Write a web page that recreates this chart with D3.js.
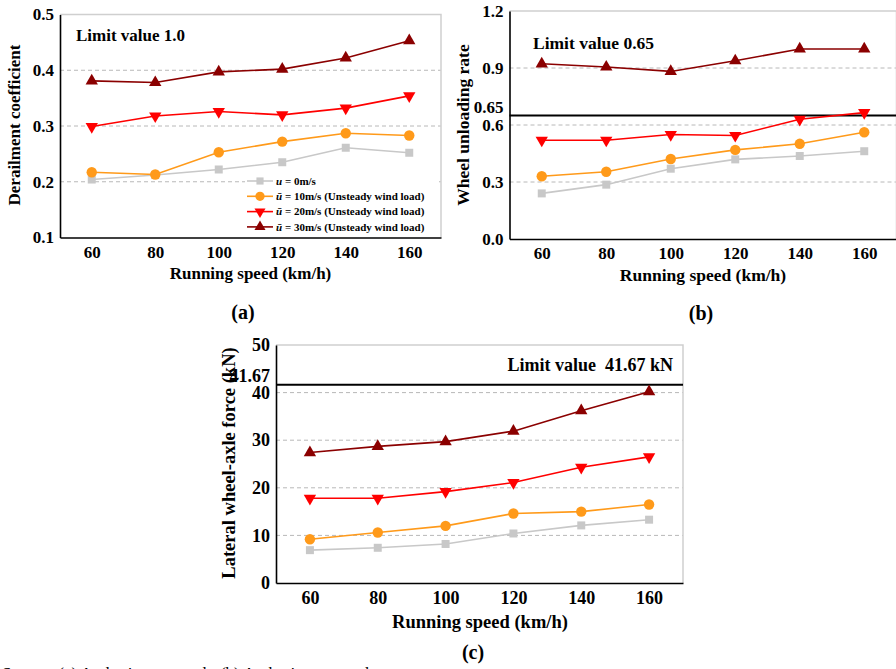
<!DOCTYPE html>
<html>
<head>
<meta charset="utf-8">
<script src="https://cdn.jsdelivr.net/npm/d3@7"></script>
<style>
  body { margin: 0; background: #fff; }
  svg { display: block; font-family: "Liberation Serif", "Times New Roman", serif; font-weight: bold; }
</style>
</head>
<body>
<svg id="chart" width="896" height="669"></svg>
<script>
// running speeds (km/h)
const speeds = [60, 80, 100, 120, 140, 160];
const seriesLabels = ["u = 0m/s", "ū = 10m/s (Unsteady wind load)", "ū = 20m/s (Unsteady wind load)", "ū = 30m/s (Unsteady wind load)"];
const seriesColors = ["#c8c8c8", "#ff9a1a", "#ff0000", "#8b0000"];

// (a) derailment coefficient
const derail0 = [0.204, 0.212, 0.222, 0.235, 0.261, 0.252];
const derail10 = [0.217, 0.213, 0.253, 0.272, 0.287, 0.283];
const derail20 = [0.299, 0.318, 0.326, 0.320, 0.332, 0.354];
const derail30 = [0.381, 0.378, 0.397, 0.402, 0.422, 0.453];
const derailTicks = [0.1, 0.2, 0.3, 0.4, 0.5];

// (b) wheel unloading rate
const unload0 = [0.24, 0.286, 0.37, 0.419, 0.437, 0.462];
const unload10 = [0.33, 0.354, 0.421, 0.469, 0.501, 0.562];
const unload20 = [0.52, 0.52, 0.55, 0.545, 0.63, 0.665];
const unload30 = [0.922, 0.905, 0.882, 0.938, 1.0, 1.0];
const unloadTicks = [0.0, 0.3, 0.6, 0.9, 1.2];
const unloadLimit = 0.65;

// (c) lateral wheel-axle force (kN)
const lateral0 = [6.9, 7.4, 8.2, 10.4, 12.1, 13.3];
const lateral10 = [9.2, 10.6, 12.0, 14.6, 15.0, 16.5];
const lateral20 = [17.8, 17.8, 19.2, 21.1, 24.3, 26.5];
const lateral30 = [27.4, 28.7, 29.7, 31.9, 36.2, 40.2];
const lateralTicks = [0, 10, 20, 30, 40, 50];
const lateralLimit = 41.67;

const svg = d3.select("#chart");

const symbols = [d3.symbolSquare, d3.symbolCircle, d3.symbolTriangle, d3.symbolTriangle];
const symbolSizes = [64, 85, 66, 66];
const symbolRotate = [0, 0, 180, 0];

function drawPanel(p) {
    const g = svg.append("g");
    const x = d3.scaleLinear().domain([50, 170]).range([p.left, p.right]);
    const y = d3.scaleLinear().domain([p.ticks[0], p.ticks[p.ticks.length - 1]]).range([p.bottom, p.top]);

    // dashed grid
    g.selectAll(".grid")
        .data(p.ticks.slice(1, -1))
        .enter().append("line")
        .attr("x1", p.left).attr("x2", p.right)
        .attr("y1", d => y(d)).attr("y2", d => y(d))
        .attr("stroke", "#b8b8b8")
        .attr("stroke-dasharray", "4,3");

    // light top / right frame
    g.append("path")
        .attr("d", `M${p.left},${p.top}H${p.right}V${p.bottom}`)
        .attr("fill", "none")
        .attr("stroke", "#cfcfcf")
        .attr("stroke-width", 1.5);

    if (p.limit !== undefined) {
        g.append("line")
            .attr("x1", p.left).attr("x2", p.right)
            .attr("y1", y(p.limit)).attr("y2", y(p.limit))
            .attr("stroke", "#000")
            .attr("stroke-width", 2);
        g.append("text")
            .attr("x", p.left - 6).attr("y", y(p.limit) - 3)
            .attr("text-anchor", "end")
            .style("font-size", p.tickFont + "px")
            .text(p.limitTick);
    }

    const line = d3.line()
        .x((d, i) => x(speeds[i]))
        .y(d => y(d));

    p.series.forEach((vals, k) => {
        g.append("path")
            .datum(vals)
            .attr("fill", "none")
            .attr("stroke", seriesColors[k])
            .attr("stroke-width", 1.6)
            .attr("d", line);
        g.selectAll(".m" + k)
            .data(vals)
            .enter().append("path")
            .attr("transform", (d, i) => `translate(${x(speeds[i])},${y(d)}) rotate(${symbolRotate[k]})`)
            .attr("d", d3.symbol().type(symbols[k]).size(symbolSizes[k]))
            .attr("fill", seriesColors[k]);
    });

    // axes
    const yAxis = g.append("g")
        .attr("transform", `translate(${p.left},0)`)
        .call(d3.axisLeft(y).tickValues(p.ticks).tickFormat(d3.format(p.fmt)).tickSize(0).tickPadding(6));
    yAxis.selectAll("text")
        .style("font-size", p.tickFont + "px")
        .attr("fill", "#000");

    const xAxis = g.append("g")
        .attr("transform", `translate(0,${p.bottom})`)
        .call(d3.axisBottom(x).tickValues(speeds).tickSize(0).tickPadding(8));
    xAxis.selectAll("text")
        .style("font-size", p.tickFont + "px")
        .attr("fill", "#000");

    [yAxis, xAxis].forEach(ax => {
        ax.attr("font-family", null).attr("font-size", null);
        ax.select(".domain").attr("stroke", "#000").attr("stroke-width", 1.6);
    });

    // titles
    g.append("text")
        .attr("transform", `translate(${p.ylabelX},${p.ylabelY}) rotate(-90)`)
        .attr("text-anchor", "middle")
        .attr("dy", "0.35em")
        .style("font-size", p.labelFont + "px")
        .text(p.ylabel);

    g.append("text")
        .attr("x", p.xlabelX).attr("y", p.xlabelY)
        .attr("text-anchor", "middle")
        .style("font-size", p.labelFont + "px")
        .text("Running speed (km/h)");

    g.append("text")
        .attr("x", p.tagX).attr("y", p.tagY)
        .attr("text-anchor", "middle")
        .style("font-size", "20px")
        .text(p.tag);

    g.append("text")
        .attr("x", p.noteX).attr("y", p.noteY)
        .attr("text-anchor", p.noteAnchor)
        .style("font-size", p.noteFont + "px")
        .style("white-space", "pre")
        .text(p.note);

    return { g, x, y };
}

const a = drawPanel({
    left: 60, right: 441, top: 14.5, bottom: 237.5,
    ticks: derailTicks, fmt: ".1f", tickFont: 17, labelFont: 17,
    series: [derail0, derail10, derail20, derail30],
    ylabel: "Derailment coefficient", ylabelX: 14, ylabelY: 125,
    xlabelX: 250.5, xlabelY: 279,
    tag: "(a)", tagX: 243, tagY: 319,
    note: "Limit value 1.0", noteX: 76, noteY: 41, noteAnchor: "start", noteFont: 17
});

drawPanel({
    left: 509.5, right: 896.5, top: 11, bottom: 239,
    ticks: unloadTicks, fmt: ".1f", tickFont: 17, labelFont: 17.5,
    limit: unloadLimit, limitTick: "0.65",
    series: [unload0, unload10, unload20, unload30],
    ylabel: "Wheel unloading rate", ylabelX: 463, ylabelY: 125,
    xlabelX: 703, xlabelY: 281,
    tag: "(b)", tagX: 701, tagY: 320,
    note: "Limit value 0.65", noteX: 533, noteY: 49, noteAnchor: "start", noteFont: 17.5
});

drawPanel({
    left: 276, right: 683, top: 345, bottom: 583,
    ticks: lateralTicks, fmt: "d", tickFont: 18, labelFont: 18.5,
    limit: lateralLimit, limitTick: "41.67",
    series: [lateral0, lateral10, lateral20, lateral30],
    ylabel: "Lateral wheel-axle force (kN)", ylabelX: 229, ylabelY: 463,
    xlabelX: 480, xlabelY: 628,
    tag: "(c)", tagX: 473, tagY: 659,
    note: "Limit value  41.67 kN", noteX: 673, noteY: 371, noteAnchor: "end", noteFont: 18
});

// legend inside panel (a)
const legend = a.g.append("g");
legend.append("rect")
    .attr("x", 245).attr("y", 172).attr("width", 194).attr("height", 63)
    .attr("fill", "#fff");
seriesLabels.forEach((label, k) => {
    const ly = 181 + k * 15.3;
    legend.append("line")
        .attr("x1", 247).attr("x2", 273)
        .attr("y1", ly).attr("y2", ly)
        .attr("stroke", seriesColors[k])
        .attr("stroke-width", 1.6);
    legend.append("path")
        .attr("transform", `translate(260,${ly}) rotate(${symbolRotate[k]})`)
        .attr("d", d3.symbol().type(symbols[k]).size(symbolSizes[k] * 0.8))
        .attr("fill", seriesColors[k]);
    const t = legend.append("text")
        .attr("x", 276).attr("y", ly)
        .attr("dy", "0.35em")
        .style("font-size", "11px");
    t.append("tspan").style("font-style", "italic").text(label.slice(0, 1));
    t.append("tspan").text(label.slice(1));
});

// caption line, cut by the bottom edge
svg.append("text")
    .attr("x", 2).attr("y", 679)
    .style("font-size", "17px")
    .style("font-weight", "normal")
    .text("Source: (a) Author's own work; (b) Author's own work");
</script>
</body>
</html>
